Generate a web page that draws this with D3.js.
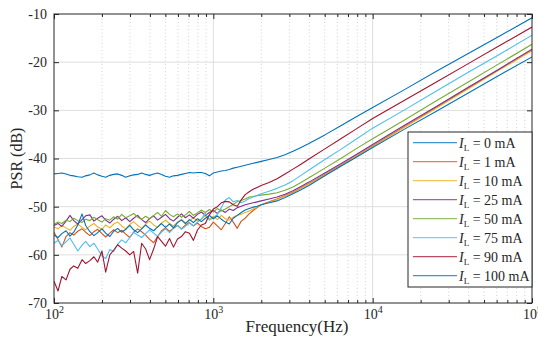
<!DOCTYPE html>
<html>
<head>
<meta charset="utf-8">
<script src="https://cdn.jsdelivr.net/npm/d3@7"></script>
<style>
  body { margin: 0; background: #fff; }
  svg { display: block; }
</style>
</head>
<body>
<div id="chart"></div>
<script>
// frequency points (Hz)
const freqHz = [100,106,112,119,126,133,141,150,158,168,178,188,200,211,224,237,251,266,282,299,
  316,335,355,376,398,422,447,473,501,531,562,596,631,668,708,750,794,841,891,944,
  1000,1059,1122,1189,1259,1334,1413,1496,1585,1679,1778,1884,1995,
  2239,2512,2818,3162,3548,3981,5012,6310,7943,10000,15849,25119,39811,63096,100000];

// PSR (dB), one array per load current
const psr0 = [-43.2,-43.1,-43.0,-43.2,-43.5,-43.6,-43.8,-43.9,-43.6,-43.4,
  -43.0,-43.4,-43.7,-43.9,-43.5,-43.3,-43.2,-43.5,-43.9,-43.6,
  -43.4,-43.3,-43.0,-43.3,-43.5,-43.2,-43.0,-43.3,-43.7,-43.9,
  -43.6,-43.5,-43.3,-43.1,-42.9,-43.0,-42.9,-42.9,-43.1,-43.6,
  -43.0,-42.8,-42.6,-42.5,-42.3,-42.0,-41.8,-41.6,-41.4,-41.2,
  -41.0,-40.8,-40.6,
  -40.2,-39.8,-39.2,-38.5,-37.7,-36.9,-35.1,-33.2,-31.3,-29.4,-25.7,-21.9,-18.2,-14.5,-10.8];
const psr1 = [-55.3,-56.8,-58.4,-56.2,-55.4,-55.9,-55.1,-54.6,-55.3,-56.0,
  -55.2,-54.7,-55.6,-56.3,-55.5,-54.8,-55.4,-54.9,-55.7,-56.4,
  -55.3,-54.6,-55.2,-55.9,-56.8,-57.5,-56.2,-55.0,-54.4,-55.1,
  -54.5,-53.9,-54.6,-53.8,-53.3,-54.0,-53.4,-54.1,-54.6,-54.3,
  -53.2,-54.0,-54.8,-53.5,-52.1,-53.2,-54.5,-53.0,-52.4,-51.5,
  -50.8,-50.2,-49.6,
  -49.0,-48.4,-47.7,-47.0,-46.1,-45.2,-43.3,-41.4,-39.4,-37.4,-33.4,-29.4,-25.4,-21.4,-17.5];
const psr10 = [-54.2,-54.6,-53.9,-54.4,-54.9,-54.1,-53.6,-54.3,-54.8,-54.0,
  -53.5,-54.2,-54.7,-53.8,-54.4,-53.6,-53.2,-54.0,-54.6,-53.7,
  -53.1,-53.9,-54.5,-53.6,-53.0,-53.8,-54.3,-53.4,-52.8,-53.5,
  -54.0,-53.2,-52.6,-53.4,-52.9,-52.3,-53.0,-52.5,-51.9,-52.6,
  -52.0,-52.7,-51.8,-52.5,-52.8,-52.2,-51.8,-51.6,-51.2,-50.9,
  -50.5,-50.0,-49.6,
  -49.1,-48.5,-47.8,-47.1,-46.2,-45.3,-43.4,-41.5,-39.5,-37.5,-33.5,-29.5,-25.5,-21.5,-17.6];
const psr25 = [-53.9,-53.5,-54.1,-53.0,-51.8,-52.9,-53.6,-52.7,-51.9,-51.7,
  -53.0,-52.4,-51.9,-52.8,-53.4,-52.6,-52.0,-52.9,-52.3,-53.1,
  -52.4,-51.8,-52.7,-53.3,-52.5,-51.9,-52.8,-52.2,-51.6,-52.5,
  -53.0,-52.2,-51.5,-52.3,-51.7,-52.4,-51.6,-51.1,-51.8,-51.2,
  -50.8,-51.4,-50.7,-51.2,-50.5,-50.8,-50.2,-49.9,-49.6,-49.4,
  -49.2,-49.0,-48.8,
  -48.4,-48.0,-47.4,-46.7,-45.8,-44.9,-43.0,-41.1,-39.1,-37.1,-33.1,-29.2,-25.2,-21.3,-17.3];
const psr50 = [-53.7,-53.2,-53.5,-52.8,-53.1,-52.4,-52.9,-53.3,-52.6,-52.9,
  -52.2,-52.7,-53.2,-52.5,-52.8,-52.1,-52.6,-51.6,-52.3,-51.9,
  -51.4,-52.2,-52.6,-52.0,-52.5,-51.8,-51.2,-52.0,-50.8,-51.6,
  -52.1,-51.5,-52.2,-51.7,-51.0,-51.8,-51.3,-50.7,-51.2,-50.6,
  -51.1,-50.4,-50.9,-50.5,-50.0,-49.5,-49.0,-48.7,-48.4,-48.0,
  -47.9,-47.7,-47.6,
  -47.4,-47.1,-46.6,-45.9,-45.0,-44.0,-42.0,-40.0,-37.9,-35.9,-32.0,-28.0,-24.1,-20.2,-16.3];
const psr75 = [-57.6,-57.0,-58.1,-57.3,-56.5,-57.8,-59.2,-58.0,-57.2,-58.3,
  -57.6,-58.8,-60.2,-60.8,-58.9,-59.3,-57.8,-56.9,-57.5,-56.4,
  -55.3,-55.9,-56.4,-55.6,-54.8,-55.5,-56.2,-55.3,-54.6,-55.4,
  -54.5,-53.9,-54.7,-54.1,-53.4,-54.0,-53.2,-52.6,-51.4,-52.8,
  -52.3,-51.6,-50.2,-48.6,-48.1,-49.0,-48.7,-49.2,-48.8,-48.3,
  -48.0,-47.7,-47.3,
  -46.8,-46.2,-45.5,-44.6,-43.5,-42.4,-40.2,-38.1,-35.9,-33.7,-29.9,-26.0,-22.1,-18.3,-14.4];
const psr90 = [-65.5,-67.5,-64.5,-65.2,-63.0,-62.3,-62.8,-61.0,-61.8,-61.2,
  -60.4,-61.5,-59.2,-63.6,-60.0,-59.0,-57.9,-58.6,-59.2,-60.0,
  -59.3,-63.8,-57.6,-58.8,-61.0,-58.8,-56.2,-57.2,-58.2,-56.6,
  -58.4,-56.7,-56.2,-55.2,-55.5,-57.0,-54.9,-53.8,-53.5,-51.7,
  -50.5,-50.0,-49.2,-48.9,-49.0,-49.6,-49.9,-48.6,-47.5,-46.9,
  -46.4,-46.0,-45.6,
  -45.0,-44.2,-43.2,-42.2,-41.2,-40.1,-38.0,-35.9,-33.8,-31.7,-27.9,-24.1,-20.3,-16.5,-12.7];
const psr100 = [-55.9,-56.4,-55.6,-55.0,-56.1,-55.3,-53.8,-51.5,-53.9,-55.2,
  -56.0,-55.4,-54.6,-55.5,-56.2,-55.1,-54.5,-55.3,-54.7,-53.9,
  -54.8,-55.4,-54.6,-53.8,-54.5,-55.0,-54.2,-53.5,-54.3,-53.6,
  -54.4,-53.3,-52.8,-53.5,-52.7,-53.3,-52.5,-53.1,-52.4,-51.8,
  -52.5,-51.9,-52.6,-53.2,-53.6,-52.4,-51.8,-51.2,-50.7,-50.4,
  -50.1,-49.9,-49.6,
  -49.2,-48.8,-48.1,-47.3,-46.5,-45.6,-43.6,-41.6,-39.7,-37.7,-33.9,-30.2,-26.4,-22.6,-18.9];

const currents = ['0', '1', '10', '25', '50', '75', '90', '100'];
const psrSeries = [psr0, psr1, psr10, psr25, psr50, psr75, psr90, psr100];
const colors = ['#0072BD', '#D95319', '#EDB120', '#7E2F8E', '#77AC30', '#4DBEEE', '#A2142F', '#0072BD'];

const xMajor = [100, 1000, 10000, 100000];
const yTicks = [-70, -60, -50, -40, -30, -20, -10];

const width = 538, height = 337;
const margin = {top: 14, right: 6, bottom: 34, left: 54};
const axisColor = '#262626';
const serif = "'Liberation Serif', 'Times New Roman', 'DejaVu Serif', serif";

const svg = d3.select('#chart').append('svg')
  .attr('width', width)
  .attr('height', height)
  .attr('font-family', serif);

const x = d3.scaleLog()
  .domain([100, 100000])
  .range([margin.left, width - margin.right]);

const y = d3.scaleLinear()
  .domain([-70, -10])
  .range([height - margin.bottom, margin.top]);

const x0 = x.range()[0], x1 = x.range()[1];
const y0 = y.range()[0], y1 = y.range()[1];

const xMinor = x.ticks().filter(d => !xMajor.includes(d));

// grid
const grid = svg.append('g');
grid.selectAll('.gx-minor')
  .data(xMinor)
  .enter().append('line')
    .attr('x1', d => x(d)).attr('x2', d => x(d))
    .attr('y1', y0).attr('y2', y1)
    .attr('stroke', '#c8c8c8')
    .attr('stroke-width', 0.8)
    .attr('stroke-dasharray', '1,2.5');
grid.selectAll('.gx-major')
  .data(xMajor.slice(1, -1))
  .enter().append('line')
    .attr('x1', d => x(d)).attr('x2', d => x(d))
    .attr('y1', y0).attr('y2', y1)
    .attr('stroke', '#dedede');
grid.selectAll('.gy')
  .data(yTicks.slice(1, -1))
  .enter().append('line')
    .attr('x1', x0).attr('x2', x1)
    .attr('y1', d => y(d)).attr('y2', d => y(d))
    .attr('stroke', '#dedede');

// data lines
svg.append('clipPath').attr('id', 'plot-clip')
  .append('rect')
    .attr('x', x0).attr('y', y1)
    .attr('width', x1 - x0).attr('height', y0 - y1);

const line = d3.line()
  .x((d, i) => x(freqHz[i]))
  .y(d => y(d));

svg.append('g')
  .attr('clip-path', 'url(#plot-clip)')
  .selectAll('path')
  .data(psrSeries)
  .enter().append('path')
    .attr('d', d => line(d))
    .attr('fill', 'none')
    .attr('stroke', (d, i) => colors[i])
    .attr('stroke-width', 1.1)
    .attr('stroke-linejoin', 'round');

// axes (ticks pointing inward)
function styleAxis(g) {
  g.attr('font-family', null).attr('font-size', null);
  g.select('.domain').remove();
  g.selectAll('.tick line').attr('stroke', axisColor);
}

const gx = svg.append('g')
  .attr('transform', 'translate(0,' + y0 + ')')
  .call(d3.axisBottom(x).tickValues(xMajor).tickSize(-5).tickPadding(6).tickFormat(() => ''))
  .call(styleAxis);

gx.selectAll('.tick text').each(function(d) {
  const t = d3.select(this)
    .attr('fill', axisColor)
    .attr('font-family', serif)
    .attr('font-size', 14)
    .attr('y', 16)
    .attr('dy', null);
  t.append('tspan').text('10');
  t.append('tspan').attr('dy', -6).attr('font-size', 10).text(Math.round(Math.log10(d)));
});

svg.append('g')
  .attr('transform', 'translate(0,' + y0 + ')')
  .call(d3.axisBottom(x).tickValues(xMinor).tickSize(-3).tickFormat(() => ''))
  .call(styleAxis);

svg.append('g')
  .attr('transform', 'translate(0,' + y1 + ')')
  .call(d3.axisTop(x).tickValues(xMajor).tickSize(-5).tickFormat(() => ''))
  .call(styleAxis);

svg.append('g')
  .attr('transform', 'translate(0,' + y1 + ')')
  .call(d3.axisTop(x).tickValues(xMinor).tickSize(-3).tickFormat(() => ''))
  .call(styleAxis);

svg.append('g')
  .attr('transform', 'translate(' + x0 + ',0)')
  .call(d3.axisLeft(y).tickValues(yTicks).tickSize(-5).tickPadding(7).tickFormat(d => d))
  .call(styleAxis)
  .call(g => g.selectAll('.tick text')
    .attr('fill', axisColor)
    .attr('font-family', serif)
    .attr('font-size', 14));

svg.append('g')
  .attr('transform', 'translate(' + x1 + ',0)')
  .call(d3.axisRight(y).tickValues(yTicks).tickSize(-5).tickFormat(() => ''))
  .call(styleAxis);

// box
svg.append('rect')
  .attr('x', x0).attr('y', y1)
  .attr('width', x1 - x0).attr('height', y0 - y1)
  .attr('fill', 'none')
  .attr('stroke', axisColor)
  .attr('stroke-width', 1);

// axis labels
svg.append('text')
  .attr('x', (x0 + x1) / 2 + 4)
  .attr('y', 332)
  .attr('text-anchor', 'middle')
  .attr('font-family', serif)
  .attr('font-size', 17)
  .attr('fill', axisColor)
  .text('Frequency(Hz)');

svg.append('text')
  .attr('transform', 'translate(22,' + ((y0 + y1) / 2) + ') rotate(-90)')
  .attr('text-anchor', 'middle')
  .attr('font-family', serif)
  .attr('font-size', 16)
  .attr('fill', axisColor)
  .text('PSR (dB)');

// legend
const legend = svg.append('g');
const legendBox = {x: 408, y: 132, w: x1 - 408, h: 155};
legend.append('rect')
  .attr('x', legendBox.x).attr('y', legendBox.y)
  .attr('width', legendBox.w).attr('height', legendBox.h)
  .attr('fill', '#fff')
  .attr('stroke', axisColor)
  .attr('stroke-width', 1);

const rows = legend.selectAll('.row')
  .data(currents)
  .enter().append('g')
    .attr('transform', (d, i) => 'translate(0,' + (142.7 + i * 19) + ')');

rows.append('line')
  .attr('x1', 413).attr('x2', 457)
  .attr('stroke', (d, i) => colors[i])
  .attr('stroke-opacity', 0.75)
  .attr('stroke-width', 1.3);

const labels = rows.append('text')
  .attr('x', 459)
  .attr('y', 5)
  .attr('font-family', serif)
  .attr('font-size', 14)
  .attr('fill', axisColor);
labels.append('tspan').attr('font-style', 'italic').text('I');
labels.append('tspan').attr('font-size', 9).attr('dy', 3).text('L');
labels.append('tspan').attr('dy', -3).text(d => ' = ' + d + ' mA');
</script>
</body>
</html>
